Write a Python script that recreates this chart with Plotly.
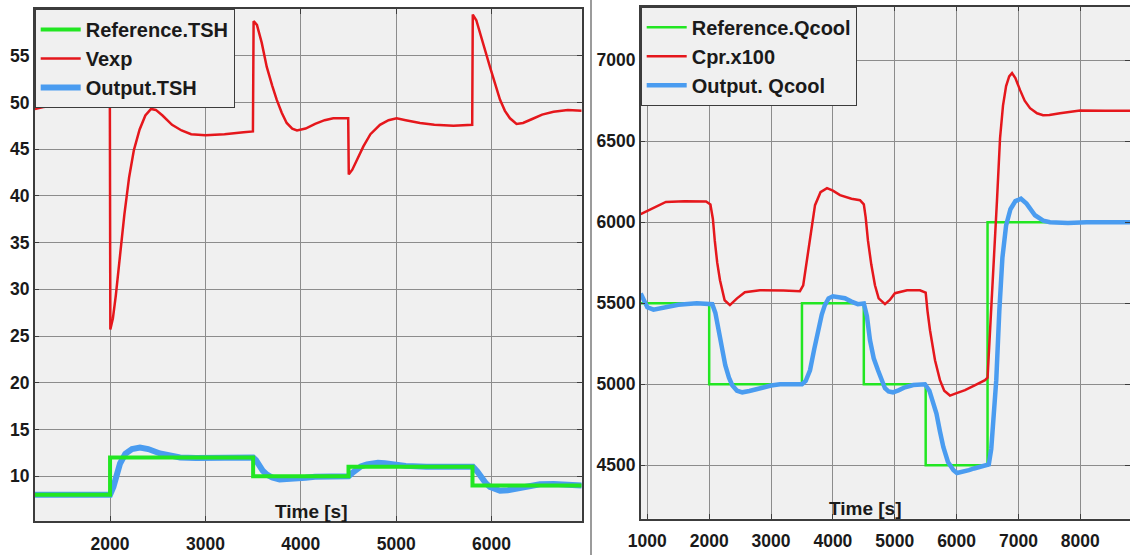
import plotly.graph_objects as go

# ---- Left panel: superheat control ----
tsh_ref_t = [1210, 2000, 3500, 4500, 5800, 6945]
tsh_ref_v = [8, 12, 10, 11, 9, 9]

vexp_t = [1210, 1300, 1450, 1600, 1800, 1998, 2003, 2030, 2060, 2100, 2150, 2200, 2250,
          2310, 2370, 2430, 2480, 2550, 2650, 2750, 2850, 3000, 3200, 3400, 3498, 3505,
          3540, 3590, 3643, 3700, 3747, 3800, 3852, 3910, 3960, 4050, 4150, 4250, 4340,
          4497, 4503, 4540, 4600, 4656, 4730, 4830, 4920, 5005, 5100, 5250, 5400, 5600,
          5797, 5803, 5840, 5878, 5930, 5983, 6040, 6088, 6140, 6193, 6262, 6330, 6420,
          6530, 6650, 6800, 6945]
vexp_v = [49.3, 49.5, 49.7, 49.8, 49.75, 49.7, 25.7, 26.9, 29.3, 33.2, 38.0, 42.0, 44.9,
          47.1, 48.6, 49.3, 49.2, 48.6, 47.6, 47.0, 46.6, 46.5, 46.6, 46.8, 46.9, 58.7,
          58.3, 56.4, 53.8, 51.8, 50.3, 48.9, 47.8, 47.2, 47.0, 47.2, 47.7, 48.1, 48.3,
          48.3, 42.3, 42.8, 44.1, 45.3, 46.6, 47.6, 48.1, 48.3, 48.1, 47.8, 47.6, 47.5,
          47.6, 59.4, 58.8, 57.4, 55.6, 53.8, 51.9, 50.3, 49.1, 48.3, 47.7, 47.8, 48.2,
          48.7, 49.0, 49.2, 49.1]

tsh_out_t = [1210, 1600, 2000, 2035, 2070, 2105, 2160, 2230, 2314, 2400, 2524, 2630, 2734,
             2900, 3100, 3300, 3500, 3530, 3564, 3600, 3642, 3700, 3778, 3860, 3953, 4050,
             4148, 4342, 4500, 4540, 4576, 4630, 4693, 4750, 4809, 4880, 4965, 5100, 5315,
             5600, 5805, 5850, 5896, 5940, 5983, 6030, 6088, 6170, 6263, 6380, 6507, 6650,
             6800, 6945]
tsh_out_v = [8.0, 8.0, 8.0, 8.85, 10.2, 11.36, 12.4, 12.9, 13.07, 12.9, 12.43, 12.15, 12.0,
             11.95, 12.0, 12.05, 12.0, 11.7, 11.07, 10.6, 10.18, 9.85, 9.64, 9.65, 9.71, 9.82,
             9.93, 10.0, 10.0, 10.35, 10.71, 11.05, 11.25, 11.38, 11.43, 11.38, 11.25, 11.1,
             11.0, 11.0, 11.0, 10.5, 9.75, 9.25, 8.85, 8.6, 8.43, 8.5, 8.68, 8.95, 9.14, 9.15,
             9.05, 9.0]

# ---- Right panel: cooling capacity control ----
qcool_ref_t = [893, 2000, 3500, 4500, 5500, 6500, 8803]
qcool_ref_v = [5500, 5000, 5500, 5000, 4500, 6000, 6000]

cpr_t = [893, 1000, 1150, 1300, 1600, 1950, 2020, 2060, 2090, 2130, 2175, 2250, 2335, 2450,
         2577, 2820, 3200, 3467, 3520, 3570, 3630, 3711, 3800, 3905, 4000, 4115, 4300, 4438,
         4500, 4530, 4566, 4620, 4680, 4740, 4842, 4920, 5003, 5200, 5407, 5500, 5530, 5570,
         5651, 5731, 5800, 5893, 6000, 6136, 6300, 6459, 6500, 6530, 6572, 6610, 6653, 6702,
         6750, 6800, 6850, 6896, 6950, 7026, 7100, 7187, 7300, 7397, 7500, 7672, 7995, 8400,
         8803]
cpr_v = [6050, 6070, 6100, 6125, 6130, 6128, 6110, 6020, 5889, 5750, 5642, 5518, 5488, 5530,
         5568, 5580, 5578, 5574, 5610, 5740, 5889, 6105, 6185, 6210, 6195, 6167, 6145, 6136,
         6110, 6030, 5889, 5740, 5611, 5530, 5494, 5520, 5562, 5580, 5580, 5565, 5450, 5333,
         5148, 5025, 4960, 4930, 4945, 4963, 4995, 5025, 5040, 5250, 5519, 5850, 6136, 6518,
         6720, 6840, 6900, 6920, 6890, 6815, 6750, 6704, 6672, 6660, 6662, 6673, 6690, 6688,
         6688]

qcool_out_t = [893, 950, 1000, 1100, 1250, 1500, 1800, 2000, 2050, 2100, 2147, 2200, 2260,
               2320, 2373, 2450, 2535, 2650, 2820, 3000, 3145, 3500, 3560, 3630, 3700, 3760,
               3820, 3870, 3930, 4000, 4100, 4194, 4300, 4404, 4500, 4550, 4600, 4660, 4729,
               4790, 4842, 4900, 4971, 5060, 5165, 5300, 5488, 5560, 5620, 5674, 5730, 5785,
               5860, 5950, 6006, 6100, 6200, 6282, 6448, 6520, 6560, 6600, 6641, 6690, 6740,
               6800, 6870, 6950, 7040, 7130, 7267, 7400, 7510, 7800, 8100, 8803]
qcool_out_v = [5560, 5510, 5475, 5460, 5470, 5490, 5500, 5500, 5494, 5440, 5333, 5220, 5117,
               5040, 4994, 4960, 4950, 4958, 4975, 4992, 5000, 5000, 5020, 5086, 5220, 5333,
               5430, 5488, 5530, 5543, 5540, 5531, 5510, 5494, 5498, 5420, 5271, 5160, 5086,
               5020, 4975, 4955, 4950, 4962, 4981, 4995, 5000, 4960, 4890, 4819, 4710, 4613,
               4520, 4469, 4452, 4458, 4470, 4480, 4500, 4505, 4600, 4780, 5025, 5450, 5780,
               5980, 6080, 6130, 6145, 6115, 6043, 6010, 6000, 5995, 6000, 6000]

GREEN = "#22e622"
RED = "#e5171c"
BLUE = "#4a9cf0"
FONT = "Liberation Sans, Arial, sans-serif"

fig = go.Figure()

# left panel traces (blue under the reference step)
fig.add_trace(go.Scatter(x=tsh_out_t, y=tsh_out_v, mode="lines", name="Output.TSH",
                         line=dict(color=BLUE, width=6), xaxis="x", yaxis="y",
                         legend="legend", legendrank=3))
fig.add_trace(go.Scatter(x=vexp_t, y=vexp_v, mode="lines", name="Vexp",
                         line=dict(color=RED, width=2.5), xaxis="x", yaxis="y",
                         legend="legend", legendrank=2))
fig.add_trace(go.Scatter(x=tsh_ref_t, y=tsh_ref_v, mode="lines", name="Reference.TSH",
                         line=dict(color=GREEN, width=4, shape="hv"), xaxis="x", yaxis="y",
                         legend="legend", legendrank=1))

# right panel traces
fig.add_trace(go.Scatter(x=qcool_ref_t, y=qcool_ref_v, mode="lines", name="Reference.Qcool",
                         line=dict(color=GREEN, width=2.5, shape="hv"), xaxis="x2", yaxis="y2",
                         legend="legend2", legendrank=1))
fig.add_trace(go.Scatter(x=qcool_out_t, y=qcool_out_v, mode="lines", name="Output. Qcool",
                         line=dict(color=BLUE, width=4.5), xaxis="x2", yaxis="y2",
                         legend="legend2", legendrank=3))
fig.add_trace(go.Scatter(x=cpr_t, y=cpr_v, mode="lines", name="Cpr.x100",
                         line=dict(color=RED, width=2.5), xaxis="x2", yaxis="y2",
                         legend="legend2", legendrank=2))

W, H = 1130, 555

axis_common = dict(
    showgrid=True, gridcolor="#8c8c8c", gridwidth=1,
    showline=True, linecolor="#3c3c3c", linewidth=1.5, mirror="allticks",
    ticks="inside", ticklen=5, tickcolor="#3c3c3c",
    zeroline=False, automargin=False,
    tickfont=dict(family=FONT, size=17.5, color="#1a1a1a", weight="bold"),
)
xaxis_extra = dict(ticklabelstandoff=6)

legend_common = dict(
    xanchor="left", yanchor="top",
    bgcolor="#f0f0f0", bordercolor="#3c3c3c", borderwidth=1,
    font=dict(family=FONT, size=20, color="#1a1a1a", weight="bold"),
    itemwidth=40, tracegroupgap=0,
)

fig.update_layout(
    width=W, height=H, autosize=False,
    margin=dict(l=0, r=0, t=0, b=0, autoexpand=False),
    paper_bgcolor="white", plot_bgcolor="#f0f0f0",
    font=dict(family=FONT, weight="bold", color="#1a1a1a"),
    xaxis=dict(domain=[34.7 / W, 581.7 / W], range=[1210, 6945],
               tickvals=[2000, 3000, 4000, 5000, 6000], anchor="y",
               **axis_common, **xaxis_extra),
    yaxis=dict(domain=[1 - 521 / H, 1 - 9 / H], range=[5.2, 60.0],
               tickvals=[10, 15, 20, 25, 30, 35, 40, 45, 50, 55], anchor="x", **axis_common),
    xaxis2=dict(domain=[640.7 / W, 1.0], range=[893, 8803],
                tickvals=[1000, 2000, 3000, 4000, 5000, 6000, 7000, 8000], anchor="y2",
                **axis_common, **xaxis_extra),
    yaxis2=dict(domain=[1 - 518.7 / H, 1 - 6.7 / H], range=[4170, 7330],
                tickvals=[4500, 5000, 5500, 6000, 6500, 7000], anchor="x2", **axis_common),
    legend=dict(x=34.7 / W, y=1 - 9 / H, **legend_common),
    legend2=dict(x=640.7 / W, y=1 - 6.7 / H, **legend_common),
    showlegend=True,
    annotations=[
        dict(text="Time [s]", x=311 / W, y=1 - 511 / H, xref="paper", yref="paper",
             showarrow=False, xanchor="center", yanchor="middle",
             font=dict(family=FONT, size=19, color="#1a1a1a", weight="bold")),
        dict(text="Time [s]", x=866 / W, y=1 - 508 / H, xref="paper", yref="paper",
             showarrow=False, xanchor="center", yanchor="middle",
             font=dict(family=FONT, size=19, color="#1a1a1a", weight="bold")),
    ],
    shapes=[
        dict(type="line", xref="paper", yref="paper", x0=591 / W, x1=591 / W, y0=0, y1=1,
             line=dict(color="#7a7a7a", width=1.5)),
    ],
)

fig.write_html("out.html")
